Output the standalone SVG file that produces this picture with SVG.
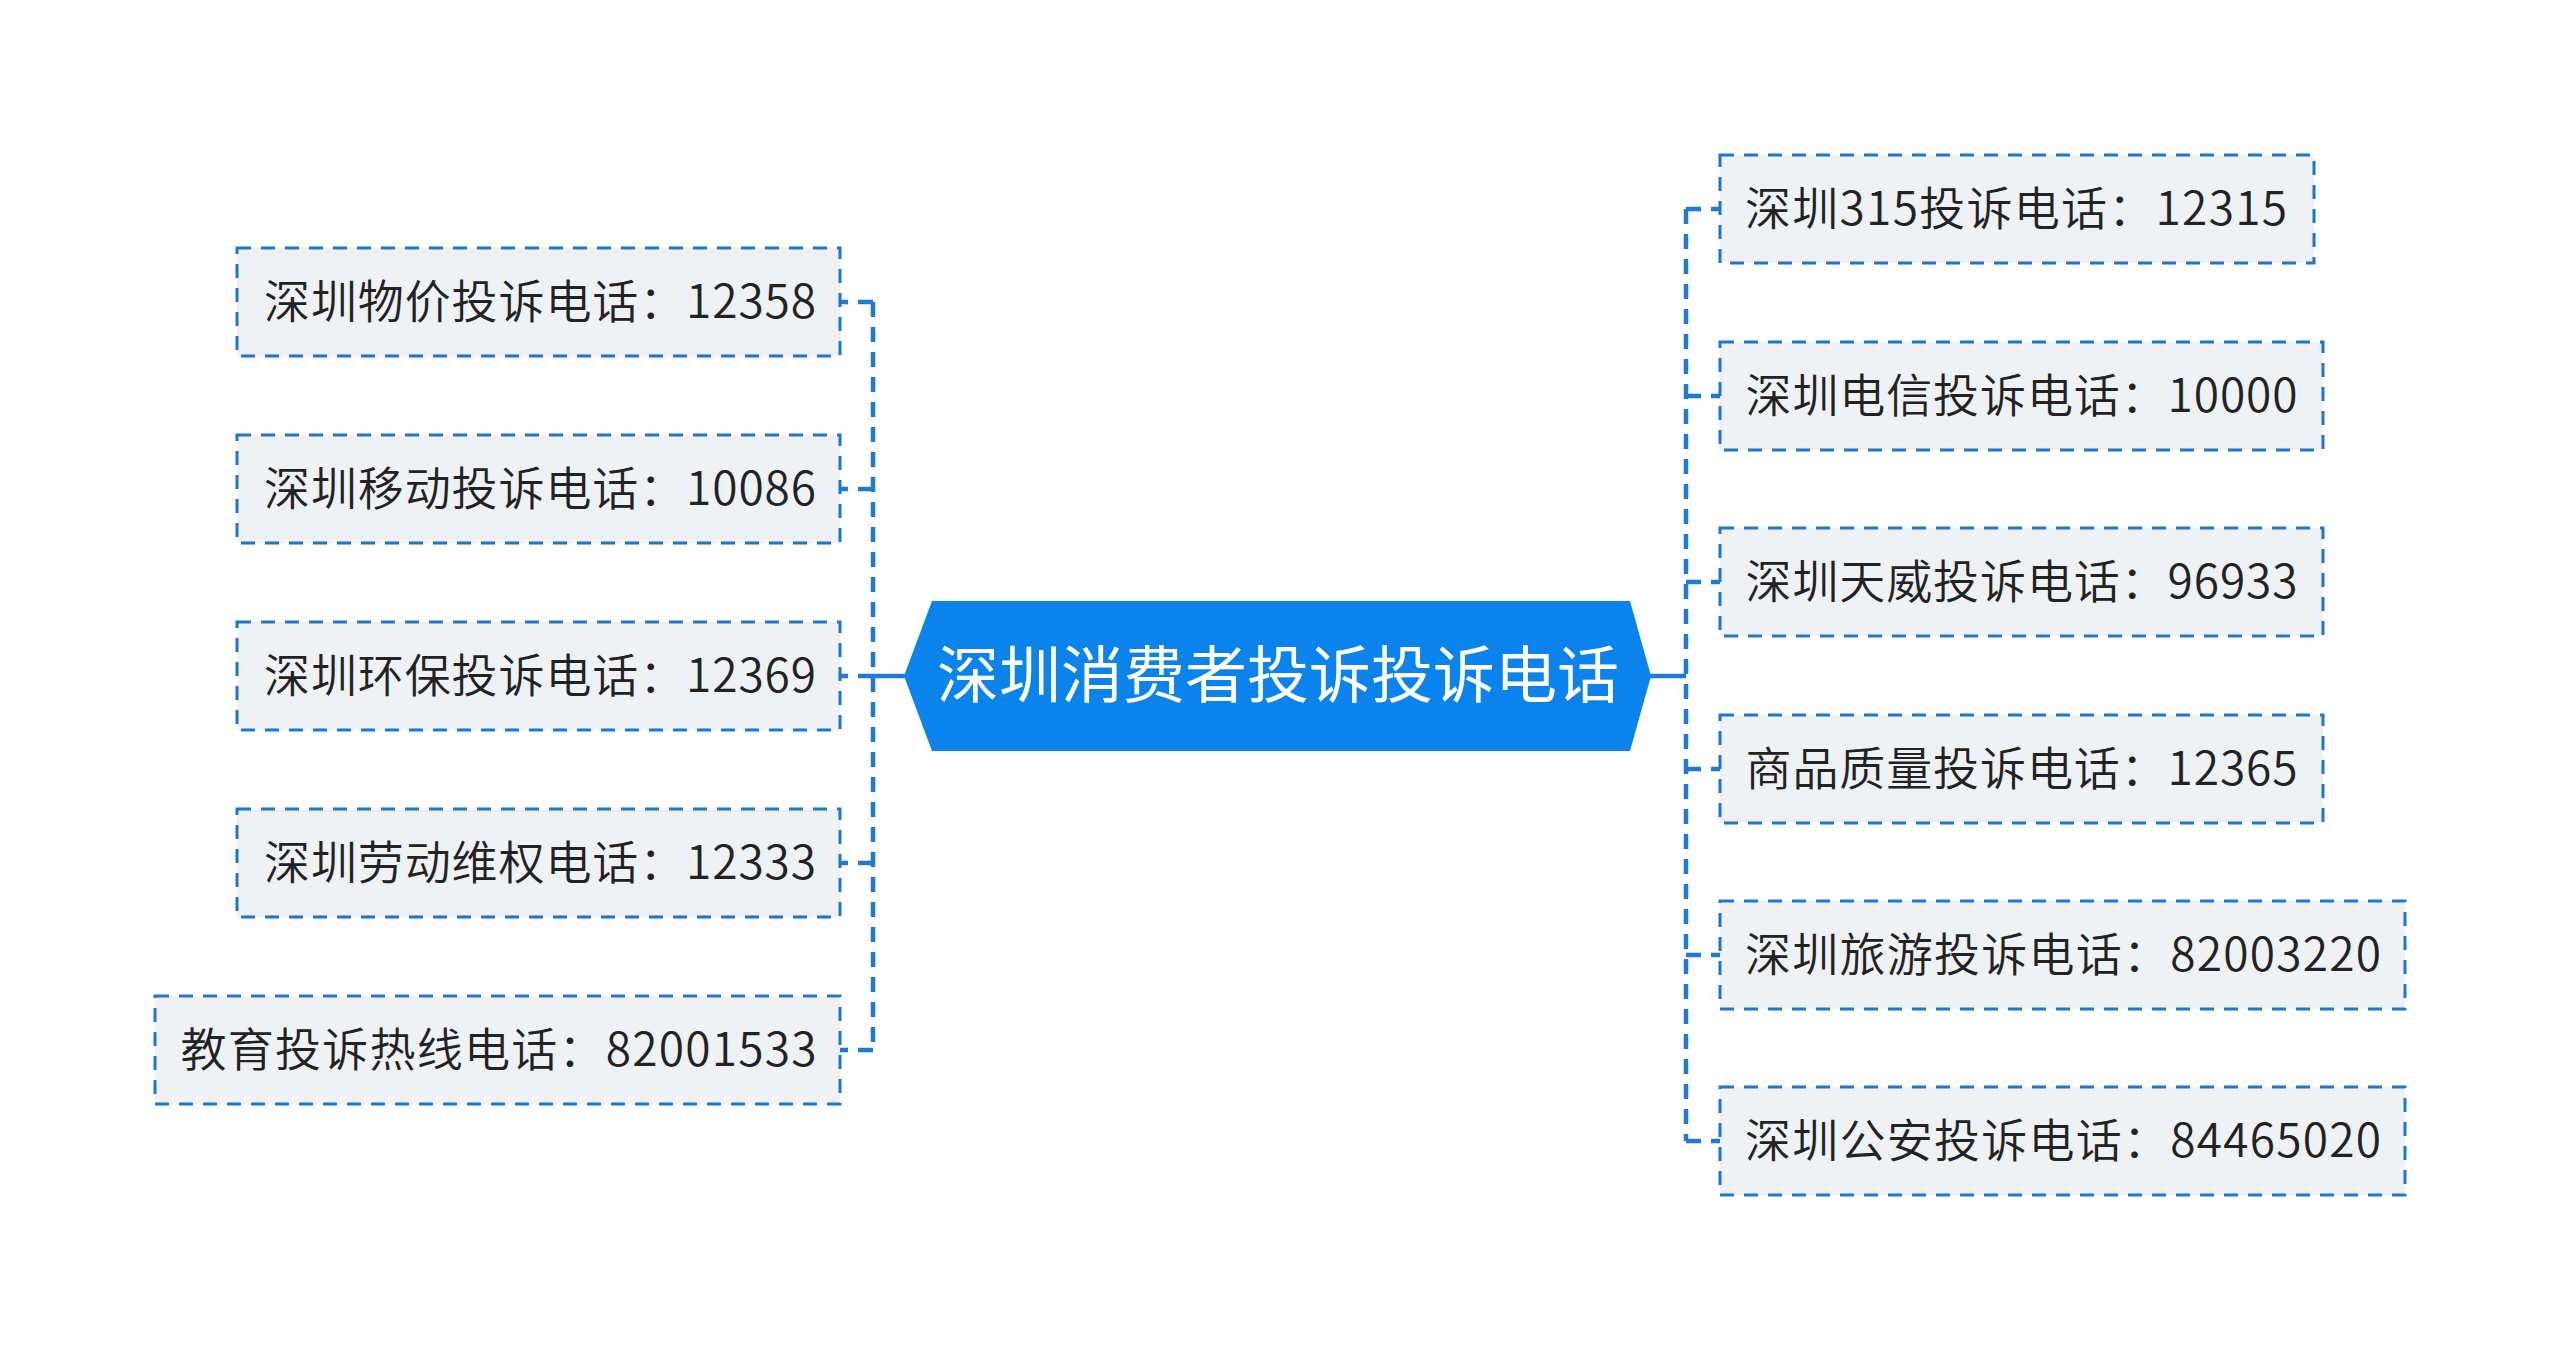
<svg xmlns="http://www.w3.org/2000/svg" width="2560" height="1351" viewBox="0 0 2560 1351">
<style>
.box{fill:#eff2f5;stroke:#1f76cc;stroke-width:3;stroke-dasharray:14 10}
.lbl{font-family:"Noto Sans CJK SC","Noto Sans",sans-serif;font-size:46px;font-weight:350;fill:#222222;text-anchor:middle}
.ctr{font-family:"Noto Sans CJK SC","Noto Sans",sans-serif;font-size:62px;font-weight:400;fill:#ffffff;text-anchor:middle}
.dash{fill:none;stroke:#1f7ad6;stroke-width:4.5;stroke-dasharray:15 10}
.solid{fill:none;stroke:#1f7ad6;stroke-width:4.5}
</style>
<rect width="2560" height="1351" fill="#ffffff"/>
<g id="connectors">
<line class="solid" x1="873" y1="676" x2="906" y2="676"/>
<line class="dash" x1="873" y1="302" x2="873" y2="1050"/>
<line class="dash" x1="873" y1="302" x2="840" y2="302"/>
<line class="dash" x1="873" y1="489" x2="840" y2="489"/>
<line class="dash" x1="873" y1="676" x2="840" y2="676"/>
<line class="dash" x1="873" y1="863" x2="840" y2="863"/>
<line class="dash" x1="873" y1="1050" x2="840" y2="1050"/>
<line class="solid" x1="1649" y1="676" x2="1686" y2="676"/>
<line class="dash" x1="1686" y1="209" x2="1686" y2="1141"/>
<line class="dash" x1="1686" y1="209" x2="1720" y2="209"/>
<line class="dash" x1="1686" y1="396" x2="1720" y2="396"/>
<line class="dash" x1="1686" y1="582" x2="1720" y2="582"/>
<line class="dash" x1="1686" y1="769" x2="1720" y2="769"/>
<line class="dash" x1="1686" y1="955" x2="1720" y2="955"/>
<line class="dash" x1="1686" y1="1141" x2="1720" y2="1141"/>
</g>
<g id="center">
<polygon points="904,676 932,601 1630,601 1651,676 1630,751 932,751" fill="#0a84ec"/>
<text class="ctr" x="1278" y="698" textLength="682">深圳消费者投诉投诉电话</text>
</g>
<g id="l1"><rect class="box" x="237" y="248" width="603" height="108"/><text class="lbl" x="540" y="318" textLength="552">深圳物价投诉电话：12358</text></g>
<g id="l2"><rect class="box" x="237" y="435" width="603" height="108"/><text class="lbl" x="540" y="505" textLength="552">深圳移动投诉电话：10086</text></g>
<g id="l3"><rect class="box" x="237" y="622" width="603" height="108"/><text class="lbl" x="540" y="692" textLength="552">深圳环保投诉电话：12369</text></g>
<g id="l4"><rect class="box" x="237" y="809" width="603" height="108"/><text class="lbl" x="540" y="879" textLength="552">深圳劳动维权电话：12333</text></g>
<g id="l5"><rect class="box" x="155" y="996" width="685" height="108"/><text class="lbl" x="498.5" y="1066" textLength="636">教育投诉热线电话：82001533</text></g>
<g id="r1"><rect class="box" x="1720" y="155" width="594" height="108"/><text class="lbl" x="2016" y="225" textLength="542">深圳315投诉电话：12315</text></g>
<g id="r2"><rect class="box" x="1720" y="342" width="603" height="108"/><text class="lbl" x="2021.5" y="412" textLength="552">深圳电信投诉电话：10000</text></g>
<g id="r3"><rect class="box" x="1720" y="528" width="603" height="108"/><text class="lbl" x="2021.5" y="598" textLength="552">深圳天威投诉电话：96933</text></g>
<g id="r4"><rect class="box" x="1720" y="715" width="603" height="108"/><text class="lbl" x="2021.5" y="785" textLength="552">商品质量投诉电话：12365</text></g>
<g id="r5"><rect class="box" x="1720" y="901" width="685" height="108"/><text class="lbl" x="2063" y="971" textLength="636">深圳旅游投诉电话：82003220</text></g>
<g id="r6"><rect class="box" x="1720" y="1087" width="685" height="108"/><text class="lbl" x="2063" y="1157" textLength="636">深圳公安投诉电话：84465020</text></g>
</svg>
